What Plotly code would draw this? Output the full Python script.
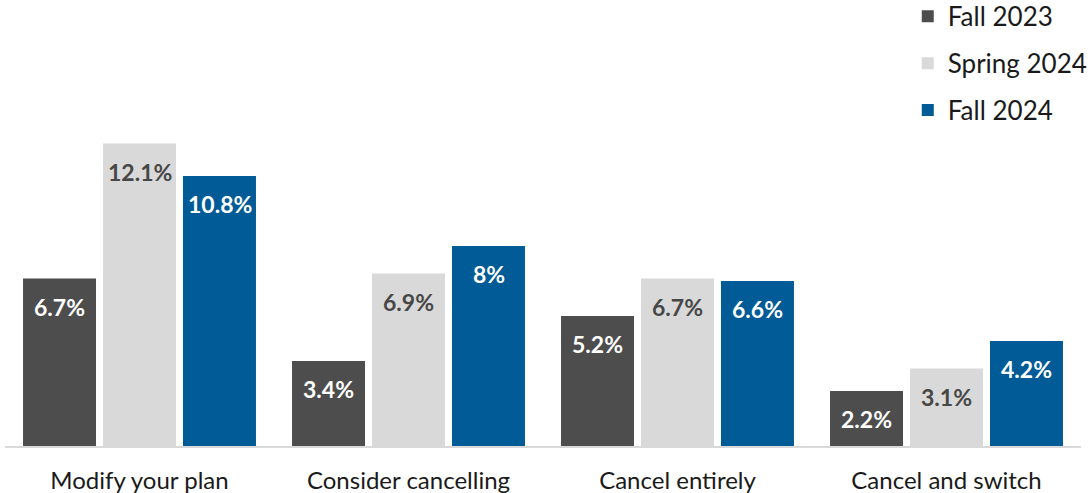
import plotly.graph_objects as go

categories = ["Modify your plan", "Consider cancelling", "Cancel entirely", "Cancel and switch"]
series_names = ["Fall 2023", "Spring 2024", "Fall 2024"]
fall_2023 = [6.7, 3.4, 5.2, 2.2]
spring_2024 = [12.1, 6.9, 6.7, 3.1]
fall_2024 = [10.8, 8, 6.6, 4.2]
value_labels = [
    ["6.7%", "3.4%", "5.2%", "2.2%"],
    ["12.1%", "6.9%", "6.7%", "3.1%"],
    ["10.8%", "8%", "6.6%", "4.2%"],
]

colors = ["#4d4d4d", "#d9d9d9", "#005b96"]
label_colors = ["#ffffff", "#474747", "#ffffff"]
series_values = [fall_2023, spring_2024, fall_2024]

fig = go.Figure()
for i, (name, vals) in enumerate(zip(series_names, series_values)):
    fig.add_trace(go.Bar(
        name=name, x=categories, y=vals,
        marker=dict(color=colors[i], line=dict(width=0)),
        legendgroup=name,
    ))

shifts = [-80, 0, 80]
for i, vals in enumerate(series_values):
    for c, v, t in zip(categories, vals, value_labels[i]):
        fig.add_annotation(
            x=c, y=v, text="<b>%s</b>" % t, showarrow=False,
            xshift=shifts[i], yshift=-28, yanchor="middle",
            font=dict(family="Lato", size=23, color=label_colors[i]),
        )

fig.update_layout(
    width=1091, height=493,
    margin=dict(l=5, r=10, t=121, b=47, autoexpand=False),
    barmode="group", bargap=0.108, bargroupgap=0.0875,
    plot_bgcolor="white", paper_bgcolor="white",
    font=dict(family="Lato", size=24, color="#1a1a1a"),
    xaxis=dict(showline=True, linecolor="#d9d9d9", linewidth=2,
               ticks="", ticklabelstandoff=12,
               tickfont=dict(size=24, color="#1a1a1a")),
    yaxis=dict(range=[0, 13], visible=False, showgrid=False),
    legend=dict(xref="paper", yref="paper", x=0.839, y=1.394,
                xanchor="left", yanchor="top",
                font=dict(size=26, color="#1a1a1a"),
                tracegroupgap=10, traceorder="grouped"),
)

fig.write_html("out.html")
